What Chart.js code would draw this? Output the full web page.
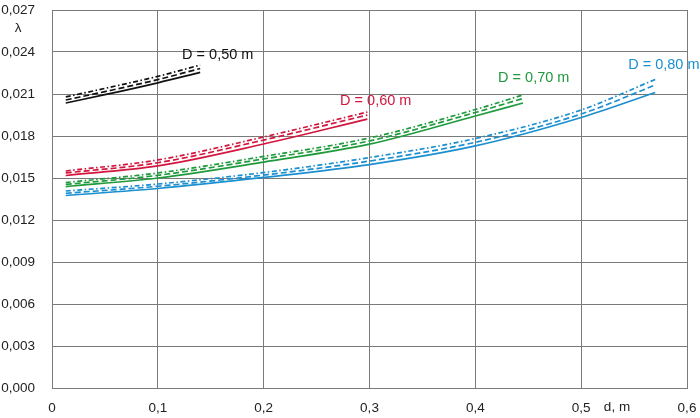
<!DOCTYPE html>
<html>
<head>
<meta charset="utf-8">
<style>
html,body{margin:0;padding:0;background:#fff;}
#wrap{width:700px;height:418px;position:relative;}
</style>
<script src="https://cdn.jsdelivr.net/npm/chart.js@4.4.1/dist/chart.umd.min.js"></script>
</head>
<body>
<div id="wrap"><canvas id="c" width="700" height="418"></canvas></div>
<script>
// ---- data ----
const xTicks = [0, 0.1, 0.2, 0.3, 0.4, 0.5, 0.6];
const yTicks = [0, 0.003, 0.006, 0.009, 0.012, 0.015, 0.018, 0.021, 0.024, 0.027];

const d50 = [0.013, 0.05, 0.10, 0.14];
const d50Solid   = [0.02036, 0.02095, 0.02180, 0.02254];
const d50Dashed  = [0.02057, 0.02117, 0.02203, 0.02282];
const d50DashDot = [0.02079, 0.02140, 0.02226, 0.02307];

const d60 = [0.013, 0.10, 0.20, 0.298];
const d60Solid   = [0.01518, 0.01586, 0.01743, 0.01921];
const d60Dashed  = [0.01536, 0.01609, 0.01771, 0.01950];
const d60DashDot = [0.01550, 0.01629, 0.01793, 0.01971];

const d70 = [0.013, 0.10, 0.20, 0.30, 0.40, 0.445];
const d70Solid   = [0.01439, 0.01500, 0.01614, 0.01742, 0.01943, 0.02036];
const d70Dashed  = [0.01454, 0.01519, 0.01636, 0.01765, 0.01968, 0.02068];
const d70DashDot = [0.01468, 0.01536, 0.01654, 0.01786, 0.01989, 0.02093];

const d80 = [0.013, 0.10, 0.20, 0.30, 0.40, 0.50, 0.57];
const d80Solid   = [0.01375, 0.01425, 0.01504, 0.01596, 0.01729, 0.01932, 0.02111];
const d80Dashed  = [0.01391, 0.01441, 0.01521, 0.01621, 0.01755, 0.01957, 0.02164];
const d80DashDot = [0.01407, 0.01457, 0.01539, 0.01646, 0.01782, 0.01986, 0.02204];

const seriesLabels = ['D = 0,50 m', 'D = 0,60 m', 'D = 0,70 m', 'D = 0,80 m'];
const xTitle = 'd, m';
const yTitle = 'λ';

// ---- styling ----
const colors = ['#111111', '#d3163e', '#1f9a3c', '#1b8fd0'];
const FONT = '"Liberation Sans", Arial, sans-serif';
const GRID = '#7a7a7a';

function pts(xs, ys){ return xs.map((x,i)=>({x:x, y:ys[i]})); }
function ds(xs, ys, color, kind){
  let dash = [];
  if (kind === 'dashed') dash = [6, 3];
  if (kind === 'dashdot') dash = [5, 2.5, 1.5, 2.5];
  return {
    data: pts(xs, ys), borderColor: color, borderWidth: 1.7, borderDash: dash,
    pointRadius: 0, fill: false, cubicInterpolationMode: 'monotone'
  };
}
const groups = [
  [d50, d50Solid, d50Dashed, d50DashDot],
  [d60, d60Solid, d60Dashed, d60DashDot],
  [d70, d70Solid, d70Dashed, d70DashDot],
  [d80, d80Solid, d80Dashed, d80DashDot]
];
const datasets = [];
groups.forEach((g, i) => {
  datasets.push(ds(g[0], g[1], colors[i], 'solid'));
  datasets.push(ds(g[0], g[2], colors[i], 'dashed'));
  datasets.push(ds(g[0], g[3], colors[i], 'dashdot'));
});

// text annotations anchored in data coordinates (left edge, vertical middle)
const labelAnchors = [
  {x: 0.1229, y: 0.02379},
  {x: 0.2722, y: 0.02052},
  {x: 0.4215, y: 0.02214},
  {x: 0.5444, y: 0.02307}
];

const textPlugin = {
  id: 'texts',
  afterDraw(chart){
    const ctx = chart.ctx, xs = chart.scales.x, ys = chart.scales.y;
    ctx.save();
    ctx.textBaseline = 'middle';
    ctx.textAlign = 'left';
    ctx.font = '14.5px ' + FONT;
    seriesLabels.forEach((t, i) => {
      ctx.fillStyle = colors[i];
      ctx.fillText(t, xs.getPixelForValue(labelAnchors[i].x), ys.getPixelForValue(labelAnchors[i].y));
    });
    ctx.fillStyle = '#222';
    ctx.font = '13.5px ' + FONT;
    ctx.textAlign = 'center';
    ctx.fillText(xTitle, 617, 407);
    ctx.fillText(yTitle, 18, 28);
    ctx.restore();
  }
};

new Chart(document.getElementById('c'), {
  type: 'line',
  data: { datasets },
  options: {
    responsive: false, animation: false,
    layout: { padding: 0 },
    plugins: { legend: { display: false }, tooltip: { enabled: false } },
    scales: {
      x: {
        type: 'linear', min: 0, max: 0.6,
        afterBuildTicks(s){ s.ticks = xTicks.map(v => ({value: v})); },
        afterFit(s){ s.height = 30; s.paddingLeft = 0; s.paddingRight = 13; s.paddingTop = 0; s.paddingBottom = 0; },
        grid: { color: GRID, lineWidth: 1, drawTicks: false },
        border: { color: GRID, width: 1 },
        ticks: {
          padding: 12, color: '#222', font: { family: FONT, size: 13.5 },
          callback: v => v === 0 ? '0' : String(Math.round(v*10)/10).replace('.', ','),
          maxRotation: 0, autoSkip: false
        }
      },
      y: {
        type: 'linear', min: 0, max: 0.027,
        afterBuildTicks(s){ s.ticks = yTicks.map(v => ({value: v})); },
        afterFit(s){ s.width = 52; s.paddingTop = 10; s.paddingBottom = 0; s.paddingLeft = 0; s.paddingRight = 0; },
        grid: { color: GRID, lineWidth: 1, drawTicks: false },
        border: { color: GRID, width: 1 },
        ticks: {
          padding: 17, color: '#222', font: { family: FONT, size: 13.5 },
          callback: v => v.toFixed(3).replace('.', ','), autoSkip: false
        }
      }
    }
  },
  plugins: [textPlugin]
});
</script>
</body>
</html>
